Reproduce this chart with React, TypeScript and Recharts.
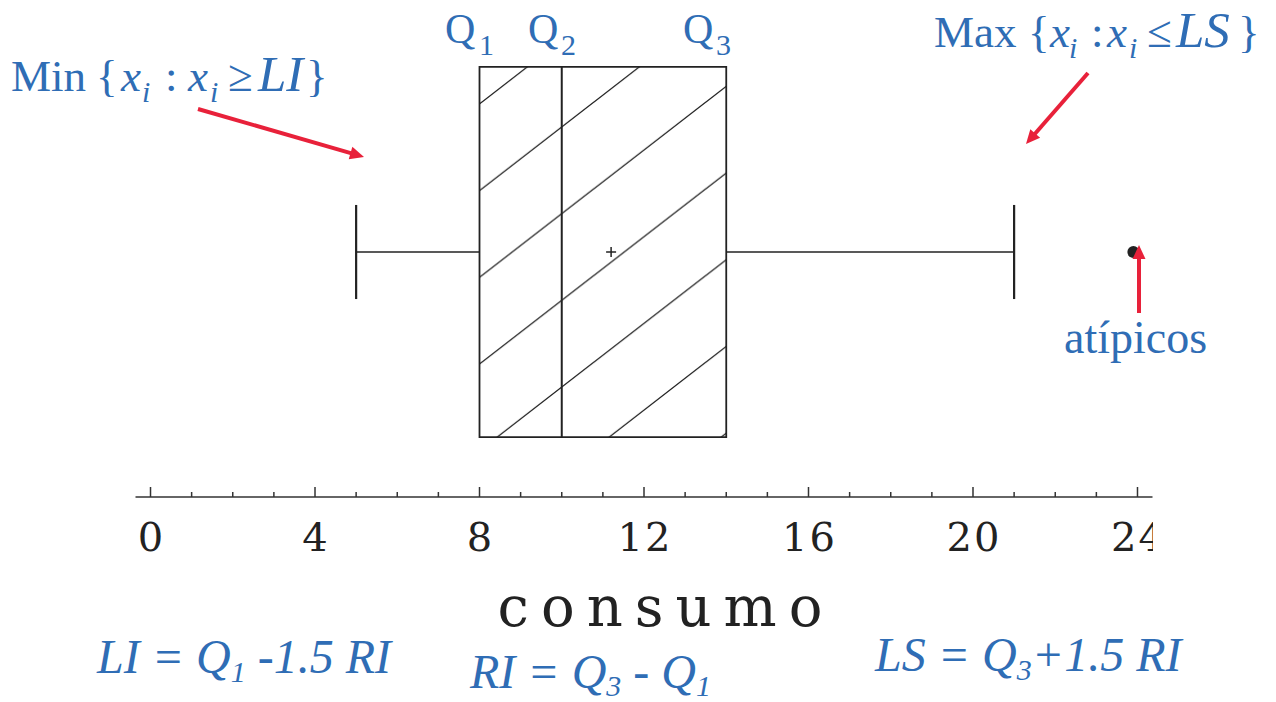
import { ComposedChart, XAxis, YAxis, ReferenceArea, ReferenceLine, Scatter } from 'recharts'

// consumo: five-number summary, mean and outliers
const quartiles = [8, 10, 14] // Q1, Q2, Q3
const whiskerEnds = [5, 21] // min / max inside the fences
const meanValues = [11.2]
const outlierValues = [23.9]
const axisTicks = [0, 1, 2, 3, 4, 5, 6, 7, 8, 9, 10, 11, 12, 13, 14, 15, 16, 17, 18, 19, 20, 21, 22, 23, 24]
const labelTicks = [0, 4, 8, 12, 16, 20, 24]

const BLUE = '#2f6db5'
const RED = '#e8213a'
const INK = '#222'
const SERIF = "'Liberation Serif', 'Times New Roman', serif"
const WIDE_SERIF = "'DejaVu Serif', 'Liberation Serif', serif"

// vertical layout of the single box (hidden y axis runs 0..1)
const MID = 0.5
const BOX_LO = 0.122
const BOX_HI = 0.878
const CAP_LO = 0.404
const CAP_HI = 0.596

const [q1, q2, q3] = quartiles
const [lo, hi] = whiskerEnds
const meanPoints = meanValues.map((x) => ({ x, y: MID }))
const outlierPoints = outlierValues.map((x) => ({ x, y: MID }))

function AxisTick(props: any) {
  const { x, y, payload } = props
  const v = payload.value as number
  const major = labelTicks.includes(v)
  return (
    <g>
      <line x1={x} x2={x} y1={y} y2={y - (major ? 10 : 5)} stroke="#333" strokeWidth={1.5} />
      {major && (
        <text
          x={x + 1}
          y={y + 54}
          textAnchor="middle"
          style={{ fontFamily: WIDE_SERIF, fontSize: 40, letterSpacing: 2 }}
          fill={INK}
          clipPath="url(#axisClip)"
        >
          {v}
        </text>
      )}
    </g>
  )
}

function Dot(props: any) {
  return <circle cx={props.cx} cy={props.cy} r={6} fill={INK} />
}

function Cross(props: any) {
  const { cx, cy } = props
  return (
    <g stroke={INK} strokeWidth={1.5}>
      <line x1={cx - 5} x2={cx + 5} y1={cy} y2={cy} />
      <line x1={cx} x2={cx} y1={cy - 5} y2={cy + 5} />
    </g>
  )
}

function Arrow({ x1, y1, x2, y2 }: { x1: number; y1: number; x2: number; y2: number }) {
  const len = Math.hypot(x2 - x1, y2 - y1)
  const ux = (x2 - x1) / len
  const uy = (y2 - y1) / len
  const head = 14
  const half = 6.5
  const bx = x2 - ux * head
  const by = y2 - uy * head
  const pts = `${x2},${y2} ${bx - uy * half},${by + ux * half} ${bx + uy * half},${by - ux * half}`
  return (
    <g>
      <line x1={x1} y1={y1} x2={bx + ux * 2} y2={by + uy * 2} stroke={RED} strokeWidth={4} />
      <polygon points={pts} fill={RED} />
    </g>
  )
}

function Annotations() {
  const sub = { fontSize: 30, fontStyle: 'italic' as const }
  const big = { fontSize: 51, fontStyle: 'italic' as const }
  return (
    <svg
      width={1276}
      height={702}
      style={{ position: 'absolute', left: 0, top: 0, pointerEvents: 'none', fontFamily: SERIF }}
    >
      <defs>
        <pattern id="hatch" patternUnits="userSpaceOnUse" x={482} y={102} width={112} height={86.7}>
          <rect width={112} height={86.7} fill="#fff" />
          <path
            d="M0,86.7 L112,0 M-11.2,8.67 L11.2,-8.67 M100.8,95.37 L123.2,78.03"
            stroke={INK}
            strokeWidth={1.3}
          />
        </pattern>
        <clipPath id="axisClip" clipPathUnits="userSpaceOnUse">
          <rect x={0} y={0} width={1153} height={702} />
        </clipPath>
      </defs>

      {/* quartile labels */}
      <text y={43} fontSize={42} fill={BLUE}>
        <tspan x={445}>Q</tspan>
        <tspan x={479} dy={12} fontSize={30}>1</tspan>
      </text>
      <text y={43} fontSize={42} fill={BLUE}>
        <tspan x={528}>Q</tspan>
        <tspan x={561} dy={12} fontSize={30}>2</tspan>
      </text>
      <text y={43} fontSize={42} fill={BLUE}>
        <tspan x={683}>Q</tspan>
        <tspan x={716} dy={12} fontSize={30}>3</tspan>
      </text>

      {/* lower whisker note */}
      <text y={91} fontSize={45} fill={BLUE}>
        <tspan x={11}>Min</tspan>
        <tspan x={96}>{'{'}</tspan>
        <tspan x={121} fontStyle="italic">x</tspan>
        <tspan x={142} dy={11} {...sub}>i</tspan>
        <tspan x={165} dy={-11}>:</tspan>
        <tspan x={188} fontStyle="italic">x</tspan>
        <tspan x={210} dy={11} {...sub}>i</tspan>
        <tspan x={228} dy={-11}>≥</tspan>
        <tspan x={258} {...big}>LI</tspan>
        <tspan x={306}>{'}'}</tspan>
      </text>

      {/* upper whisker note */}
      <text y={47} fontSize={45} fill={BLUE}>
        <tspan x={934}>Max</tspan>
        <tspan x={1028}>{'{'}</tspan>
        <tspan x={1050} fontStyle="italic">x</tspan>
        <tspan x={1069} dy={11} {...sub}>i</tspan>
        <tspan x={1091} dy={-11}>:</tspan>
        <tspan x={1107} fontStyle="italic">x</tspan>
        <tspan x={1129} dy={11} {...sub}>i</tspan>
        <tspan x={1147} dy={-11}>≤</tspan>
        <tspan x={1176} {...big}>LS</tspan>
        <tspan x={1238}>{'}'}</tspan>
      </text>

      <text x={1064} y={353} fontSize={46} fill={BLUE}>
        atípicos
      </text>

      <Arrow x1={198} y1={109} x2={364} y2={157} />
      <Arrow x1={1088} y1={73} x2={1026} y2={144} />
      <Arrow x1={1139} y1={313} x2={1139} y2={245} />

      {/* axis title */}
      <text
        x={666}
        y={626}
        textAnchor="middle"
        style={{ fontFamily: WIDE_SERIF, fontSize: 56, letterSpacing: 12 }}
        fill={INK}
      >
        consumo
      </text>

      {/* fence formulas */}
      <g fill={BLUE} fontSize={48} fontStyle="italic" style={{ whiteSpace: 'pre' }}>
        <text y={673}>
          <tspan x={97}>LI = Q</tspan>
          <tspan dy={9} fontSize={30}>1</tspan>
          <tspan dy={-9}> -1.5 RI</tspan>
        </text>
        <text y={688}>
          <tspan x={470}>RI = Q</tspan>
          <tspan dy={8} fontSize={30}>3</tspan>
          <tspan dy={-8}> - Q</tspan>
          <tspan dy={8} fontSize={30}>1</tspan>
        </text>
        <text y={671}>
          <tspan x={875}>LS = Q</tspan>
          <tspan dy={9} fontSize={30}>3</tspan>
          <tspan dy={-9}>+1.5 RI</tspan>
        </text>
      </g>
    </svg>
  )
}

export default function App() {
  return (
    <div style={{ position: 'absolute', left: 0, top: 0, width: 1276, height: 702, background: '#fff' }}>
      <ComposedChart
        width={1276}
        height={702}
        margin={{ top: 7, right: 123.5, left: 135.5, bottom: 175 }}
      >
        <XAxis
          type="number"
          dataKey="x"
          domain={[-0.365, 24.365]}
          allowDataOverflow
          ticks={axisTicks}
          interval={0}
          tick={<AxisTick />}
          tickLine={false}
          tickSize={0}
          tickMargin={0}
          axisLine={{ stroke: '#333', strokeWidth: 1.5 }}
          height={30}
        />
        <YAxis type="number" dataKey="y" domain={[0, 1]} hide width={0} />

        <ReferenceArea
          x1={q1}
          x2={q3}
          y1={BOX_LO}
          y2={BOX_HI}
          fill="url(#hatch)"
          fillOpacity={1}
          stroke={INK}
          strokeWidth={1.8}
        />
        <ReferenceLine segment={[{ x: q2, y: BOX_LO }, { x: q2, y: BOX_HI }]} stroke={INK} strokeWidth={2} />

        <ReferenceLine segment={[{ x: lo, y: MID }, { x: q1, y: MID }]} stroke={INK} strokeWidth={1.5} />
        <ReferenceLine segment={[{ x: q3, y: MID }, { x: hi, y: MID }]} stroke={INK} strokeWidth={1.5} />
        <ReferenceLine segment={[{ x: lo, y: CAP_LO }, { x: lo, y: CAP_HI }]} stroke={INK} strokeWidth={2.2} />
        <ReferenceLine segment={[{ x: hi, y: CAP_LO }, { x: hi, y: CAP_HI }]} stroke={INK} strokeWidth={2.2} />

        <Scatter data={meanPoints} shape={<Cross />} isAnimationActive={false} />
        <Scatter data={outlierPoints} shape={<Dot />} isAnimationActive={false} />
      </ComposedChart>
      <Annotations />
    </div>
  )
}
